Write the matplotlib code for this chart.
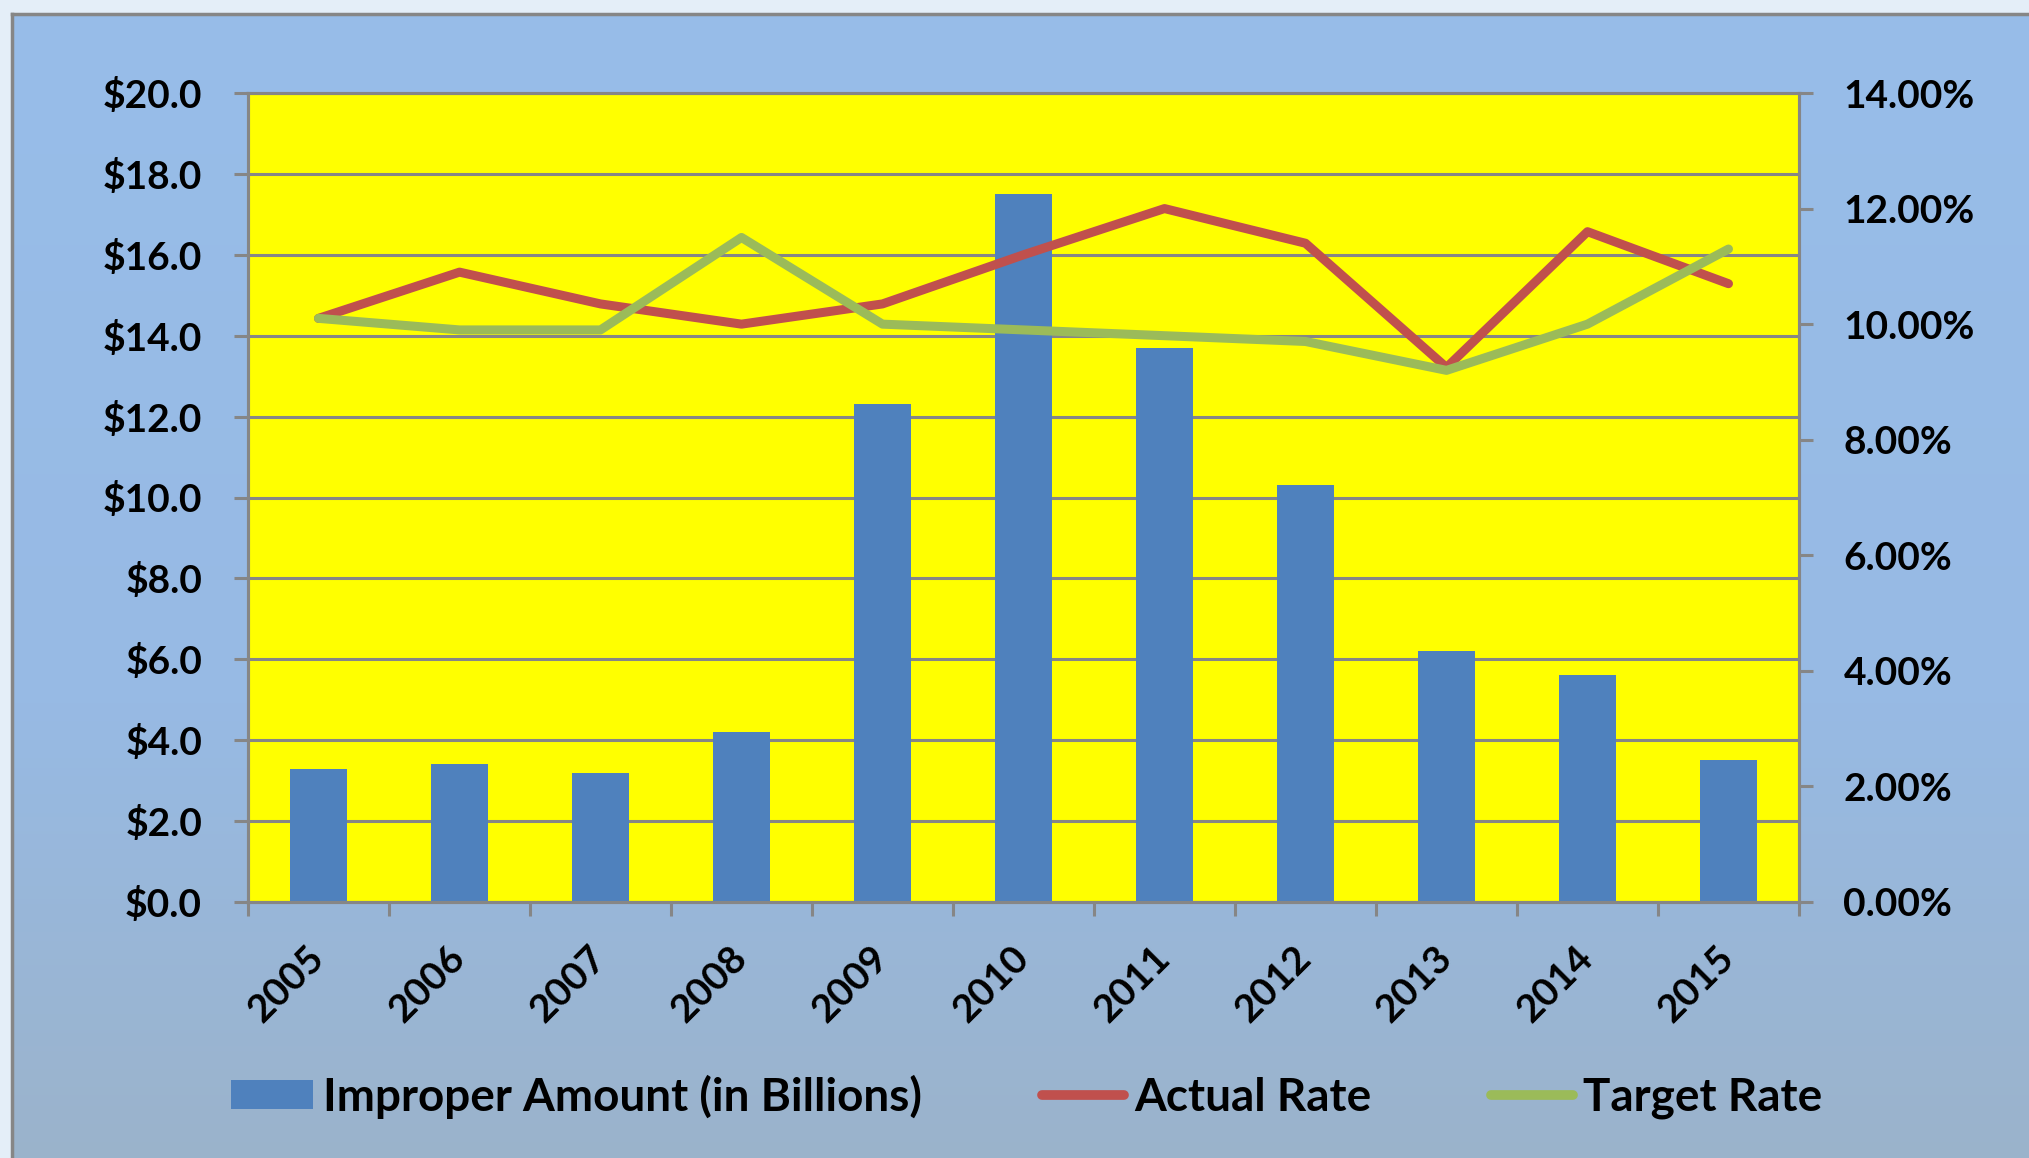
import matplotlib
matplotlib.use("Agg")
import matplotlib.pyplot as plt
import numpy as np
from matplotlib.patches import Patch
from matplotlib.lines import Line2D
from matplotlib.ticker import FuncFormatter, FixedLocator

plt.rcParams['font.family'] = ['Lato', 'DejaVu Sans']
plt.rcParams['font.weight'] = 'bold'

years = ['2005', '2006', '2007', '2008', '2009', '2010', '2011', '2012', '2013', '2014', '2015']
improper_amount = [3.3, 3.4, 3.2, 4.2, 12.3, 17.5, 13.7, 10.3, 6.2, 5.6, 3.5]
actual_rate = [10.1, 10.9, 10.35, 10.0, 10.35, 11.2, 12.0, 11.4, 9.25, 11.6, 10.7]
target_rate = [10.1, 9.9, 9.9, 11.5, 10.0, 9.9, 9.8, 9.7, 9.2, 10.0, 11.3]
legend_labels = ['Improper Amount (in Billions)', 'Actual Rate', 'Target Rate']

BAR = '#4F81BD'
RED = '#C0504D'
GREEN = '#9BBB59'
GRID = '#868686'
FS = 28
LFS = 33

W, H = 2029, 1158
fig = plt.figure(figsize=(W / 100, H / 100), dpi=100)
fig.patch.set_facecolor('#E4EEF8')

# background gradient
bg = fig.add_axes([0, 0, 1, 1], zorder=-10)
bg.set_xlim(0, W)
bg.set_ylim(H, 0)
bg.axis('off')
top = np.array([0x98, 0xBD, 0xE9]) / 255
mid = np.array([0x97, 0xBA, 0xE4]) / 255
bot = np.array([0x9B, 0xB3, 0xCB]) / 255
t = np.linspace(0, 1, 256)[:, None]
grad = np.where(t < 0.6, top + (mid - top) * (t / 0.6), mid + (bot - mid) * ((t - 0.6) / 0.4))
bg.imshow(grad[:, None, :], extent=[12, W + 5, H + 5, 14], aspect='auto', interpolation='bilinear')
bg.plot([12, W + 5], [14, 14], color=GRID, lw=2.5)
bg.plot([12, 12], [14, H + 5], color=GRID, lw=2.5)

left, right = 248 / W, 1799 / W
bottom, topf = 1 - 902 / H, 1 - 93 / H
ax = fig.add_axes([left, bottom, right - left, topf - bottom])
ax.set_facecolor('#FFFF00')
x = np.arange(len(years))
ax.bar(x, improper_amount, width=0.4, color=BAR, zorder=3)
ax.set_xlim(-0.5, len(years) - 0.5)
ax.set_ylim(0, 20)
ax.set_yticks(np.arange(0, 20.01, 2))
ax.yaxis.set_major_formatter(FuncFormatter(lambda v, p: f'${v:.1f}'))
ax.yaxis.grid(True, color=GRID, lw=2.2, zorder=1)
ax.set_axisbelow(True)
ax.set_xticks(x)
ax.set_xticklabels(years, rotation=45, ha='right', va='center', rotation_mode='anchor')
ax.xaxis.set_minor_locator(FixedLocator(np.arange(-0.5, len(years), 1)))
ax.tick_params(axis='x', which='major', length=0, pad=36, labelsize=FS)
ax.tick_params(axis='x', which='minor', length=10, width=2.2, color=GRID)
ax.tick_params(axis='y', length=10, width=2.2, color=GRID, pad=23, labelsize=FS)
for s in ax.spines.values():
    s.set_color(GRID)
    s.set_linewidth(2.2)

ax2 = ax.twinx()
ax2.patch.set_visible(False)
ax2.plot(x, actual_rate, color=RED, lw=6.5, solid_joinstyle='round', solid_capstyle='round', zorder=4)
ax2.plot(x, target_rate, color=GREEN, lw=6.5, solid_joinstyle='round', solid_capstyle='round', zorder=4)
ax2.set_ylim(0, 14)
ax2.set_yticks(np.arange(0, 14.01, 2))
ax2.yaxis.set_major_formatter(FuncFormatter(lambda v, p: f'{v:.2f}%'))
ax2.tick_params(axis='y', length=10, width=2.2, color=GRID, pad=22, labelsize=FS)
for s in ax2.spines.values():
    s.set_color(GRID)
    s.set_linewidth(2.2)

handles = [Patch(facecolor=BAR, edgecolor='none'),
           Line2D([], [], color=RED, lw=7, solid_capstyle='round'),
           Line2D([], [], color=GREEN, lw=7, solid_capstyle='round')]
fig.legend(handles, legend_labels, loc='center', bbox_to_anchor=(0.506, 1 - 1097 / H), ncol=3,
           frameon=False, fontsize=LFS, handlelength=1.8, handleheight=0.6, handletextpad=0.22,
           columnspacing=2.6)

fig.savefig('out.png', dpi=100, facecolor=fig.get_facecolor())
